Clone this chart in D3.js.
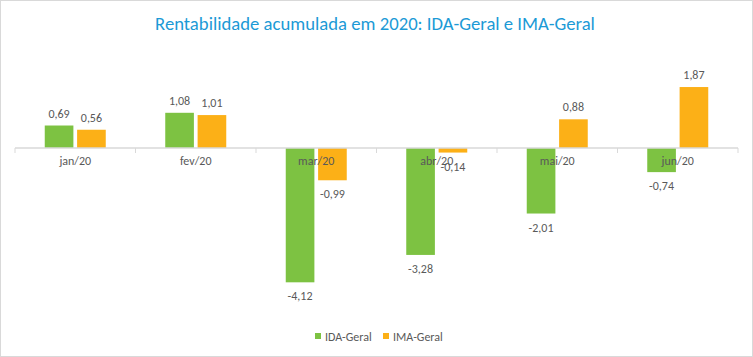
<!DOCTYPE html>
<html><head><meta charset="utf-8">
<script src="https://cdn.jsdelivr.net/npm/d3@7"></script>
<style>body{margin:0;background:#fff}svg{display:block}text{font-family:Carlito,Lato,"Open Sans",sans-serif}</style>
</head><body><svg id="c" width="753" height="357"></svg>
<script>
const categories = ["jan/20","fev/20","mar/20","abr/20","mai/20","jun/20"];
const seriesNames = ["IDA-Geral","IMA-Geral"];
const idaGeral = [0.69, 1.08, -4.12, -3.28, -2.01, -0.74];
const imaGeral = [0.56, 1.01, -0.99, -0.14, 0.88, 1.87];
const titleText = "Rentabilidade acumulada em 2020: IDA-Geral e IMA-Geral";

const colors = ["#7dc242", "#fcb017"];
const labelColor = "#595959";
const svg = d3.select("#c");
const W = 753, H = 357;

svg.append("rect").attr("x",0.5).attr("y",0.5).attr("width",W-1).attr("height",H-1)
  .attr("fill","#fff").attr("stroke","#d9d9d9");

const x = d3.scaleBand().domain(categories).range([15, 738]);
const y = d3.scaleLinear().domain([-4.5, 2]).range([148 + 4.5*32.6, 148 - 2*32.6]);
const x1 = d3.scaleBand().domain(seriesNames).range([0, 61]).paddingInner(7/61);
const off = (x.bandwidth() - 61) / 2;

const data = seriesNames.map((s, i) => ({name: s, values: i === 0 ? idaGeral : imaGeral, color: colors[i]}));
const fmt = v => d3.format(".2f")(v).replace(".", ",").replace("\u2212", "-");

// bars
data.forEach(s => {
  const g = svg.append("g");
  g.selectAll("rect").data(s.values).join("rect")
    .attr("x", (d, i) => x(categories[i]) + off + x1(s.name))
    .attr("width", x1.bandwidth())
    .attr("y", d => Math.min(y(d), y(0)))
    .attr("height", d => Math.abs(y(d) - y(0)))
    .attr("fill", s.color);
});

// axis
const axisG = svg.append("g").attr("transform", `translate(0,${y(0)})`);
axisG.append("line").attr("x1", 15).attr("x2", 738).attr("stroke", "#d9d9d9").attr("stroke-width", 1.3);
axisG.selectAll("line.tk").data(d3.range(categories.length + 1)).join("line").attr("class","tk")
  .attr("x1", i => 15 + i * x.step()).attr("x2", i => 15 + i * x.step())
  .attr("y1", 0).attr("y2", 5).attr("stroke", "#d9d9d9");
axisG.selectAll("text").data(categories).join("text")
  .attr("x", d => x(d) + x.bandwidth() / 2).attr("y", 17)
  .attr("text-anchor", "middle").attr("font-size", 12).attr("fill", labelColor).text(d => d);

// value labels
data.forEach(s => {
  svg.append("g").selectAll("text").data(s.values).join("text")
    .attr("x", (d, i) => x(categories[i]) + off + x1(s.name) + x1.bandwidth() / 2)
    .attr("y", d => d >= 0 ? y(d) - 8 : y(d) + 18)
    .attr("text-anchor", "middle").attr("font-size", 12).attr("fill", labelColor)
    .text(d => fmt(d));
});

// title
const t = svg.append("text").attr("x", 375).attr("y", 30).attr("text-anchor", "middle")
  .attr("font-size", 18).attr("fill", "#1c9ad6").text(titleText);
const tw = t.node().getComputedTextLength();
t.attr("font-size", 18 * 440 / tw);

// legend
const lg = svg.append("g");
const lx = [315, 383];
data.forEach((s, i) => {
  lg.append("rect").attr("x", lx[i]).attr("y", 333).attr("width", 6).attr("height", 6).attr("fill", s.color);
  lg.append("text").attr("x", lx[i] + 10).attr("y", 341).attr("font-size", 12).attr("fill", labelColor).text(s.name);
});
</script></body></html>
